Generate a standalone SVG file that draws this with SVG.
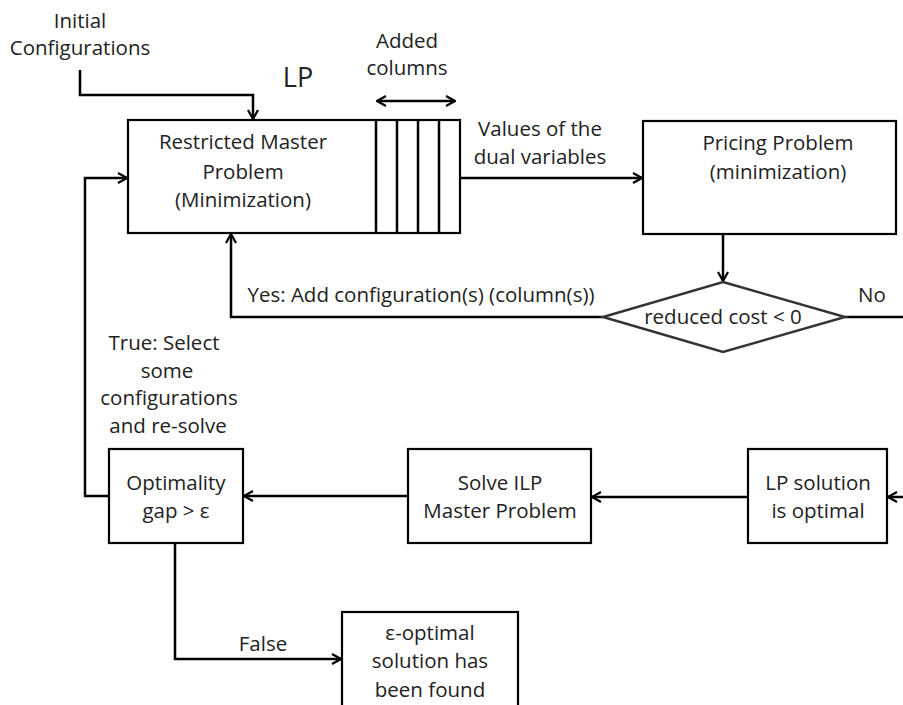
<svg xmlns="http://www.w3.org/2000/svg" width="903" height="705" viewBox="0 0 903 705">
<defs>
<marker id="arr" viewBox="0 0 12 12" refX="11" refY="6" markerWidth="12" markerHeight="12" markerUnits="userSpaceOnUse" orient="auto-start-reverse">
<path d="M2,1 L11,6 L2,11" fill="none" stroke="#000" stroke-width="2.2"/>
</marker>
<style>
.box{fill:#fff;stroke:#000;stroke-width:2.2}
.ln{fill:none;stroke:#000;stroke-width:2.5}
.t{font-family:"Open Sans","Liberation Sans",Arial,sans-serif;font-size:20.5px;fill:#222;text-anchor:middle}
</style>
</defs>
<rect width="903" height="705" fill="#fff"/>
<g id="connectors">
<path class="ln" d="M80,70 V95 H253 V119" marker-end="url(#arr)"/>
<path class="ln" d="M377,101 H455" marker-start="url(#arr)" marker-end="url(#arr)"/>
<path class="ln" d="M460,178 H642" marker-end="url(#arr)"/>
<path class="ln" d="M723,234 V281" marker-end="url(#arr)"/>
<path class="ln" d="M603,317 H231 V234" marker-end="url(#arr)"/>
<path class="ln" d="M845,317 H903"/>
<path class="ln" d="M109,496 H85 V178 H127" marker-end="url(#arr)"/>
<path class="ln" d="M408,496 H244" marker-end="url(#arr)"/>
<path class="ln" d="M748,497 H592" marker-end="url(#arr)"/>
<path class="ln" d="M903,497 H888" marker-end="url(#arr)"/>
<path class="ln" d="M175,543 V659 H341" marker-end="url(#arr)"/>
<text class="t" x="80" y="28">Initial</text>
<text class="t" x="80" y="55">Configurations</text>
<text class="t" x="298" y="87" style="font-size:27px">LP</text>
<text class="t" x="407" y="48">Added</text>
<text class="t" x="407" y="75">columns</text>
<text class="t" x="540" y="136">Values of the</text>
<text class="t" x="540" y="164">dual variables</text>
<text class="t" x="421" y="302">Yes: Add configuration(s) (column(s))</text>
<text class="t" x="872" y="302">No</text>
<text class="t" x="164" y="350">True: Select</text>
<text class="t" x="167" y="378">some</text>
<text class="t" x="169" y="405">configurations</text>
<text class="t" x="168" y="433">and re-solve</text>
<text class="t" x="263" y="651">False</text>
</g>
<g id="rmp">
<rect class="box" x="128" y="120" width="332" height="113"/>
<path class="ln" d="M376,120 V233 M397,120 V233 M418,120 V233 M439,120 V233"/>
<text class="t" x="243" y="149">Restricted Master</text>
<text class="t" x="243" y="179">Problem</text>
<text class="t" x="243" y="207">(Minimization)</text>
</g>
<g id="pricing">
<rect class="box" x="643" y="121" width="253" height="113"/>
<text class="t" x="778" y="150">Pricing Problem</text>
<text class="t" x="778" y="179">(minimization)</text>
</g>
<g id="decision">
<path class="box" d="M723,282 L845,317 L723,352 L603,317 Z" style="stroke:#333;stroke-width:2.5"/>
<text class="t" x="723" y="324">reduced cost &lt; 0</text>
</g>
<g id="optimality">
<rect class="box" x="109" y="449" width="134" height="94"/>
<text class="t" x="176" y="490">Optimality</text>
<text class="t" x="176" y="518">gap &gt; ε</text>
</g>
<g id="solveilp">
<rect class="box" x="408" y="449" width="183" height="94"/>
<text class="t" x="500" y="490">Solve ILP</text>
<text class="t" x="500" y="518">Master Problem</text>
</g>
<g id="lpsol">
<rect class="box" x="748" y="449" width="139" height="94"/>
<text class="t" x="818" y="490">LP solution</text>
<text class="t" x="818" y="518">is optimal</text>
</g>
<g id="eps">
<rect class="box" x="342" y="612" width="176" height="110"/>
<text class="t" x="430" y="640">ε-optimal</text>
<text class="t" x="430" y="668">solution has</text>
<text class="t" x="430" y="697">been found</text>
</g>
</svg>
